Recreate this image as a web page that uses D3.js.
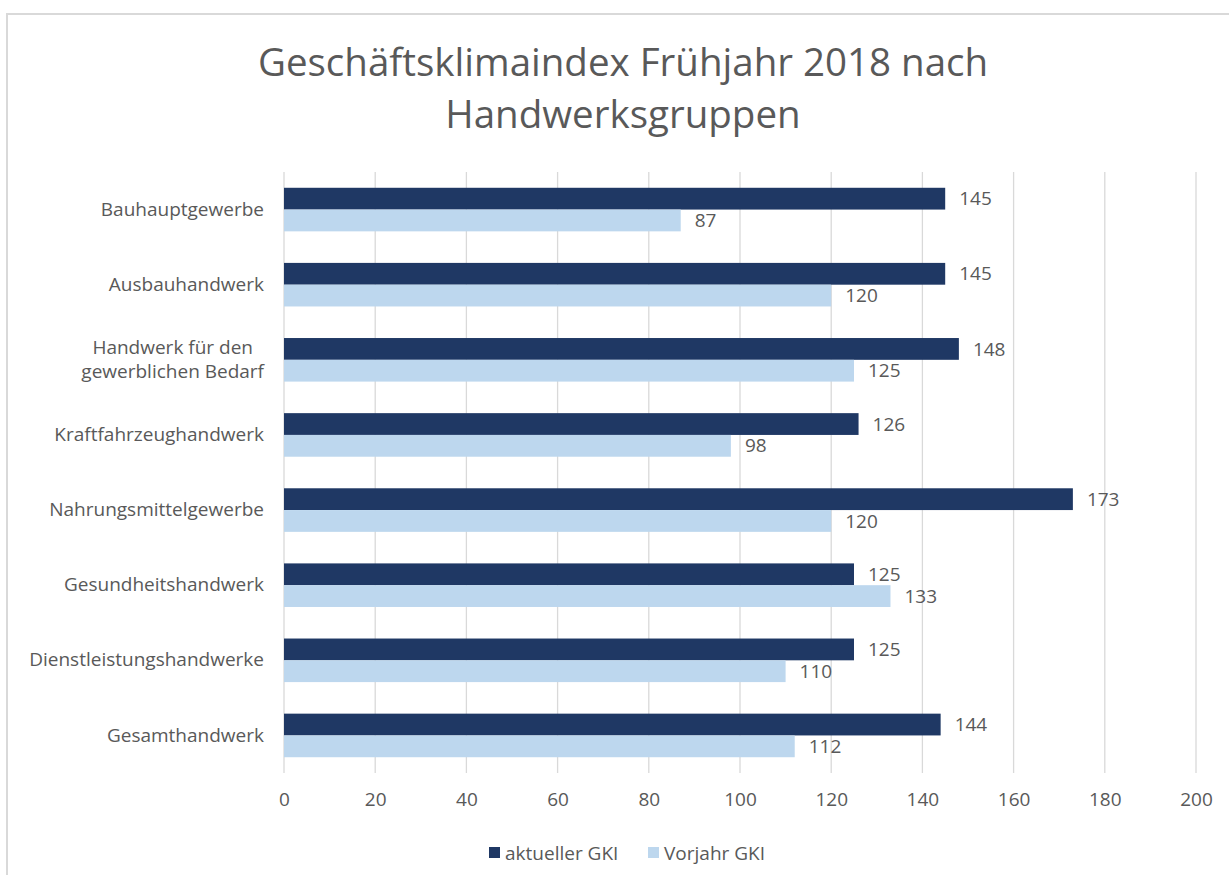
<!DOCTYPE html>
<html>
<head>
<meta charset="utf-8">
<script src="https://cdn.jsdelivr.net/npm/d3@7"></script>
<style>
  body { margin: 0; background: #fff; }
  svg { display: block; font-family: "Open Sans", Lato, sans-serif; }
</style>
</head>
<body>
<div id="chart"></div>
<script>
// Data
const categories = [
  "Bauhauptgewerbe",
  "Ausbauhandwerk",
  "Handwerk für den|gewerblichen Bedarf",
  "Kraftfahrzeughandwerk",
  "Nahrungsmittelgewerbe",
  "Gesundheitshandwerk",
  "Dienstleistungshandwerke",
  "Gesamthandwerk"
];
const aktuell = [145, 145, 148, 126, 173, 125, 125, 144];
const vorjahr = [87, 120, 125, 98, 120, 133, 110, 112];
const seriesNames = ["aktueller GKI", "Vorjahr GKI"];
const xTicks = [0, 20, 40, 60, 80, 100, 120, 140, 160, 180, 200];

const colors = ["#1F3864", "#BDD7EE"];
const textColor = "#595959";
const gridColor = "#D9D9D9";
const fontFam = "'Open Sans', Lato, sans-serif";
const labelSize = "19px";

const W = 1229, H = 875;
const margin = {top: 172, right: 33, bottom: 102, left: 284};

const svg = d3.select("#chart").append("svg")
  .attr("width", W)
  .attr("height", H);

// chart border
svg.append("rect")
  .attr("x", 7).attr("y", 14)
  .attr("width", W + 10).attr("height", H + 10)
  .attr("fill", "none")
  .attr("stroke", gridColor)
  .attr("stroke-width", 2);

// Title
const title = svg.append("text")
  .attr("text-anchor", "middle")
  .attr("fill", textColor)
  .style("font-size", "38.5px");
title.append("tspan").attr("x", 623).attr("y", 76).text("Geschäftsklimaindex Frühjahr 2018 nach");
title.append("tspan").attr("x", 623).attr("y", 128).text("Handwerksgruppen");

// Scales
const x = d3.scaleLinear()
  .domain([0, 200])
  .range([margin.left, W - margin.right]);
const y = d3.scaleBand()
  .domain(categories)
  .range([margin.top, H - margin.bottom])
  .paddingInner(0.42)
  .paddingOuter(0.21);
const ySub = d3.scaleBand()
  .domain([0, 1])
  .range([0, y.bandwidth()]);

// Gridlines
svg.append("g")
  .selectAll("line")
  .data(xTicks)
  .join("line")
  .attr("x1", d => x(d)).attr("x2", d => x(d))
  .attr("y1", margin.top).attr("y2", H - margin.bottom)
  .attr("stroke", gridColor)
  .attr("stroke-width", 1.3);

// X axis
const xAxis = svg.append("g")
  .attr("transform", `translate(0,${H - margin.bottom})`)
  .call(d3.axisBottom(x).tickValues(xTicks).tickSize(0).tickPadding(20));
xAxis.select(".domain").remove();
xAxis.selectAll("text")
  .attr("fill", textColor)
  .style("font-size", labelSize)
  .style("font-family", fontFam);

// Y axis labels
const yAxis = svg.append("g")
  .attr("transform", `translate(${margin.left},0)`)
  .call(d3.axisLeft(y).tickSize(0).tickPadding(20));
yAxis.select(".domain").remove();
yAxis.selectAll("text")
  .attr("fill", textColor)
  .style("font-size", labelSize)
  .style("font-family", fontFam)
  .each(function(d) {
    const parts = d.split("|");
    if (parts.length < 2) return;
    const t = d3.select(this).text(null);
    parts.forEach((p, i) => {
      t.append("tspan")
        .attr("x", -20)
        .attr("dy", i === 0 ? "-0.3em" : "1.25em")
        .text(p);
    });
    // center the two lines against each other
    const spans = t.selectAll("tspan").nodes();
    const maxW = d3.max(spans, s => s.getComputedTextLength());
    t.attr("text-anchor", "middle");
    spans.forEach(s => d3.select(s).attr("x", -20 - maxW / 2));
  });

// Bars
const seriesData = [aktuell, vorjahr];
seriesData.forEach((vals, si) => {
  const g = svg.append("g");
  g.selectAll("rect")
    .data(vals)
    .join("rect")
    .attr("x", x(0))
    .attr("y", (d, i) => y(categories[i]) + ySub(si))
    .attr("width", d => x(d) - x(0))
    .attr("height", ySub.bandwidth())
    .attr("fill", colors[si]);
  g.selectAll("text")
    .data(vals)
    .join("text")
    .attr("x", d => x(d) + 14)
    .attr("y", (d, i) => y(categories[i]) + ySub(si) + ySub.bandwidth() / 2)
    .attr("dy", "0.35em")
    .attr("fill", textColor)
    .style("font-size", labelSize)
    .text(d => d);
});

// Legend
const legendPos = [489, 648];
const legend = svg.append("g");
seriesNames.forEach((name, i) => {
  legend.append("rect")
    .attr("x", legendPos[i]).attr("y", 847)
    .attr("width", 11).attr("height", 11)
    .attr("fill", colors[i]);
  legend.append("text")
    .attr("x", legendPos[i] + 16).attr("y", 853)
    .attr("dy", "0.35em")
    .attr("fill", textColor)
    .style("font-size", labelSize)
    .text(name);
});
</script>
</body>
</html>
